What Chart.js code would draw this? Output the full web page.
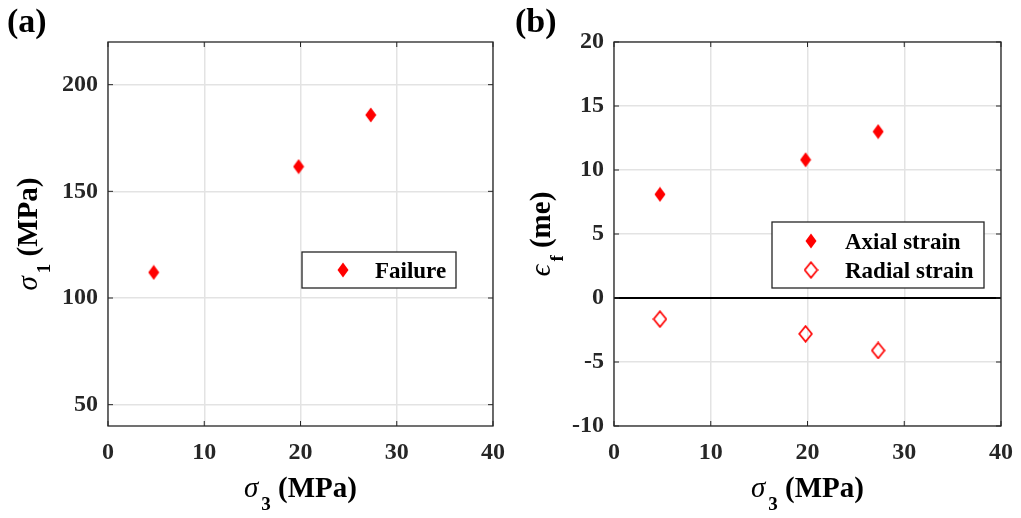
<!DOCTYPE html>
<html><head><meta charset="utf-8">
<script src="https://cdn.jsdelivr.net/npm/chart.js@4/dist/chart.umd.min.js"></script>
<style>
html,body{margin:0;padding:0;background:#fff;}
#wrap{position:relative;width:1021px;height:518px;overflow:hidden;}
canvas{position:absolute;top:0;}
</style>
</head><body>
<div id="wrap">
<canvas id="ca" width="510" height="518" style="left:0"></canvas>
<canvas id="cb" width="511" height="518" style="left:510px"></canvas>
</div>
<script>
// ---- data ----
const sigma3 = [4.75, 19.8, 27.3];
const sigma1Failure = [112.0, 161.6, 185.8];
const axialStrain = [8.1, 10.8, 13.0];
const radialStrain = [-1.65, -2.8, -4.1];
const xTicks = [0, 10, 20, 30, 40];
const yTicksA = [50, 100, 150, 200];
const yTicksB = [-10, -5, 0, 5, 10, 15, 20];

const SERIF = "'Liberation Serif','DejaVu Serif',serif";
const AX = '#262626';
const GRID = '#e3e3e3';

function diamond(w, h, filled) {
  const c = document.createElement('canvas');
  c.width = w; c.height = h;
  const g = c.getContext('2d');
  const m = filled ? 0.5 : 1.2;
  g.beginPath();
  g.moveTo(w / 2, m); g.lineTo(w - m, h / 2); g.lineTo(w / 2, h - m); g.lineTo(m, h / 2); g.closePath();
  if (filled) { g.fillStyle = '#ff0000'; g.fill(); }
  else { g.strokeStyle = '#ff0000'; g.lineWidth = 1.7; g.stroke(); }
  return c;
}
const dFilled = diamond(12, 16, true);
const dHollow = diamond(15, 18, false);

function pts(xs, ys) { return xs.map((x, i) => ({ x: x, y: ys[i] })); }

function drawRich(ctx, pieces, x0, y0) {
  let total = 0;
  pieces.forEach(p => { ctx.font = p.font; p.w = ctx.measureText(p.t).width; total += p.w + (p.gap || 0); });
  let x = x0 - total / 2;
  pieces.forEach(p => {
    ctx.font = p.font;
    ctx.fillText(p.t, x, y0 + (p.dy || 0));
    x += p.w + (p.gap || 0);
  });
}

function decorPlugin(cfg) {
  return {
    id: 'decor',
    afterDraw(chart) {
      const ctx = chart.ctx, a = chart.chartArea;
      const xs = chart.scales.x, ys = chart.scales.y;
      ctx.save();
      ctx.strokeStyle = AX; ctx.lineWidth = 1.3;
      ctx.strokeRect(a.left, a.top, a.right - a.left, a.bottom - a.top);
      ctx.lineWidth = 1;
      ctx.beginPath();
      xs.ticks.forEach(t => {
        const px = xs.getPixelForValue(t.value);
        ctx.moveTo(px, a.bottom); ctx.lineTo(px, a.bottom - 5);
        ctx.moveTo(px, a.top); ctx.lineTo(px, a.top + 5);
      });
      ys.ticks.forEach(t => {
        const py = ys.getPixelForValue(t.value);
        ctx.moveTo(a.left, py); ctx.lineTo(a.left + 5, py);
        ctx.moveTo(a.right, py); ctx.lineTo(a.right - 5, py);
      });
      ctx.stroke();
      ctx.fillStyle = '#000';
      ctx.textBaseline = 'alphabetic';
      ctx.textAlign = 'left';
      const cx = (a.left + a.right) / 2, cy = (a.top + a.bottom) / 2;
      drawRich(ctx, cfg.xTitle, cx, cfg.xTitleY);
      ctx.save();
      ctx.translate(cfg.yTitleX, cy);
      ctx.rotate(-Math.PI / 2);
      drawRich(ctx, cfg.yTitle, 0, 0);
      ctx.restore();
      ctx.font = 'bold 34px ' + SERIF;
      ctx.fillText(cfg.panel, cfg.panelX, 32);
      const L = cfg.legend;
      ctx.fillStyle = '#fff';
      ctx.fillRect(L.x, L.y, L.w, L.h);
      ctx.strokeStyle = AX; ctx.lineWidth = 1.3;
      ctx.strokeRect(L.x, L.y, L.w, L.h);
      ctx.fillStyle = '#000';
      ctx.font = 'bold 23px ' + SERIF;
      chart.data.datasets.forEach((ds, i) => {
        const img = ds.pointStyle;
        const my = L.rowY[i];
        ctx.drawImage(img, L.mx - img.width / 2, my - img.height / 2);
        ctx.fillText(ds.label, L.tx, my + 8);
      });
      ctx.restore();
    }
  };
}

function baseOptions(cfg) {
  return {
    responsive: false,
    animation: false,
    layout: { padding: { left: 0, right: cfg.padRight, top: 42, bottom: 0 } },
    plugins: { legend: { display: false }, tooltip: { enabled: false } },
    scales: {
      x: {
        type: 'linear', min: 0, max: 40,
        afterBuildTicks: s => { s.ticks = xTicks.map(v => ({ value: v })); },
        afterFit: s => { s.height = 92; s.paddingLeft = 0; s.paddingRight = 0; },
        border: { display: false },
        grid: { color: GRID, lineWidth: 1.5, drawTicks: false },
        ticks: { color: AX, padding: 12, font: { family: SERIF, size: 24, weight: 'bold' } }
      },
      y: {
        type: 'linear', min: cfg.ymin, max: cfg.ymax,
        afterBuildTicks: s => { s.ticks = cfg.yTicks.map(v => ({ value: v })); },
        afterFit: s => { s.width = cfg.yWidth; s.paddingTop = 0; s.paddingBottom = 0; },
        border: { display: false },
        grid: {
          color: c => (cfg.zeroLine && c.tick && c.tick.value === 0) ? '#000' : GRID,
          lineWidth: c => (cfg.zeroLine && c.tick && c.tick.value === 0) ? 2 : 1.5,
          drawTicks: false
        },
        ticks: { color: AX, padding: 10, font: { family: SERIF, size: 24, weight: 'bold' } }
      }
    }
  };
}

// ---- chart (a) ----
const cfgA = {
  padRight: 17, ymin: 40, ymax: 220, yTicks: yTicksA, yWidth: 108, zeroLine: false,
  xTitle: [
    { t: 'σ', font: 'italic 29px ' + SERIF, gap: 3 },
    { t: '3', font: 'bold 19px ' + SERIF, dy: 13, gap: 0 },
    { t: ' (MPa)', font: 'bold 29px ' + SERIF }
  ],
  xTitleY: 497,
  yTitle: [
    { t: 'σ', font: 'italic 29px ' + SERIF, gap: 3 },
    { t: '1', font: 'bold 19px ' + SERIF, dy: 13, gap: 0 },
    { t: ' (MPa)', font: 'bold 29px ' + SERIF }
  ],
  yTitleX: 37,
  panel: '(a)', panelX: 7,
  legend: { x: 302, y: 252, w: 154, h: 36, mx: 343, tx: 375, rowY: [270] }
};
new Chart(document.getElementById('ca'), {
  type: 'scatter',
  data: { datasets: [{ label: 'Failure', data: pts(sigma3, sigma1Failure), pointStyle: dFilled, pointRadius: 7 }] },
  options: baseOptions(cfgA),
  plugins: [decorPlugin(cfgA)]
});

// ---- chart (b) ----
const cfgB = {
  padRight: 20, ymin: -10, ymax: 20, yTicks: yTicksB, yWidth: 104, zeroLine: true,
  xTitle: [
    { t: 'σ', font: 'italic 29px ' + SERIF, gap: 3 },
    { t: '3', font: 'bold 19px ' + SERIF, dy: 13, gap: 0 },
    { t: ' (MPa)', font: 'bold 29px ' + SERIF }
  ],
  xTitleY: 497,
  yTitle: [
    { t: 'ϵ', font: 'italic 29px ' + SERIF, gap: 3 },
    { t: 'f', font: 'bold 19px ' + SERIF, dy: 13, gap: 0 },
    { t: ' (me)', font: 'bold 29px ' + SERIF }
  ],
  yTitleX: 40,
  panel: '(b)', panelX: 5,
  legend: { x: 262, y: 222, w: 212, h: 66, mx: 301, tx: 335, rowY: [241, 270] }
};
new Chart(document.getElementById('cb'), {
  type: 'scatter',
  data: {
    datasets: [
      { label: 'Axial strain', data: pts(sigma3, axialStrain), pointStyle: dFilled, pointRadius: 7 },
      { label: 'Radial strain', data: pts(sigma3, radialStrain), pointStyle: dHollow, pointRadius: 8 }
    ]
  },
  options: baseOptions(cfgB),
  plugins: [decorPlugin(cfgB)]
});
</script>
</body></html>
